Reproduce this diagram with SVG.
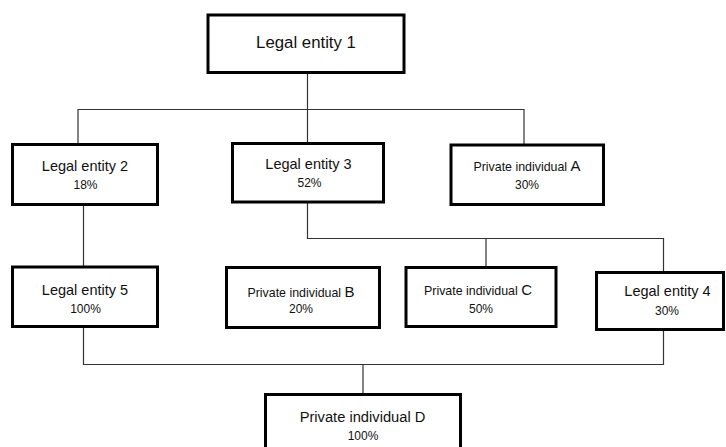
<svg xmlns="http://www.w3.org/2000/svg" width="726" height="447" viewBox="0 0 726 447">
<style>
.box{fill:#fff;stroke:#000;stroke-width:3}
.c{fill:none;stroke:#333;stroke-width:1.2}
text{font-family:"Liberation Sans",Arial,sans-serif;fill:#111;text-anchor:middle}
.m{font-size:14.5px}
.p{font-size:12px}
.s{font-size:12.4px}
.big{font-size:15px}
</style>
<rect width="726" height="447" fill="#fff"/>
<g id="connectors">
<path class="c" d="M307.5 74 V109.5 M78 109.5 H524 M78 109 V143 M307.5 109 V142 M524 109 V144"/>
<path class="c" d="M83.5 206 V266"/>
<path class="c" d="M307.5 203 V238.5 H663.5 V271 M486 238.5 V266"/>
<path class="c" d="M83.5 328 V364.5 H663.5 V330 M363 364.5 V393"/>
</g>
<g id="n1">
<rect class="box" x="208" y="15" width="196" height="57.5"/>
<text x="306" y="48" style="font-size:16.8px">Legal entity 1</text>
</g>
<g id="n2">
<rect class="box" x="12.5" y="144.5" width="145" height="60"/>
<text class="m" x="85" y="171">Legal entity 2</text>
<text class="p" x="85.5" y="189">18%</text>
</g>
<g id="n3">
<rect class="box" x="232.5" y="143.5" width="151" height="58.5"/>
<text class="m" x="308.5" y="169">Legal entity 3</text>
<text class="p" x="309.5" y="187">52%</text>
</g>
<g id="nA">
<rect class="box" x="451" y="145" width="152.5" height="59.5"/>
<text class="s" x="527" y="171">Private individual <tspan class="big">A</tspan></text>
<text class="p" x="527" y="189">30%</text>
</g>
<g id="n5">
<rect class="box" x="12.5" y="267" width="145" height="59.5"/>
<text class="m" x="85" y="295">Legal entity 5</text>
<text class="p" x="85.5" y="313">100%</text>
</g>
<g id="nB">
<rect class="box" x="226.5" y="267.5" width="153" height="60"/>
<text class="s" x="301" y="297">Private individual <tspan class="big">B</tspan></text>
<text class="p" x="301" y="313">20%</text>
</g>
<g id="nC">
<rect class="box" x="406" y="267.5" width="150" height="59"/>
<text class="s" x="478" y="295">Private individual <tspan class="big">C</tspan></text>
<text class="p" x="481" y="313">50%</text>
</g>
<g id="n4">
<rect class="box" x="596.5" y="272.5" width="127" height="57"/>
<text class="m" x="667.5" y="296">Legal entity 4</text>
<text class="p" x="667" y="315">30%</text>
</g>
<g id="nD">
<rect class="box" x="265.5" y="394.5" width="195" height="60"/>
<text x="362.5" y="422" style="font-size:14.7px">Private individual D</text>
<text class="p" x="363" y="440">100%</text>
</g>
</svg>
